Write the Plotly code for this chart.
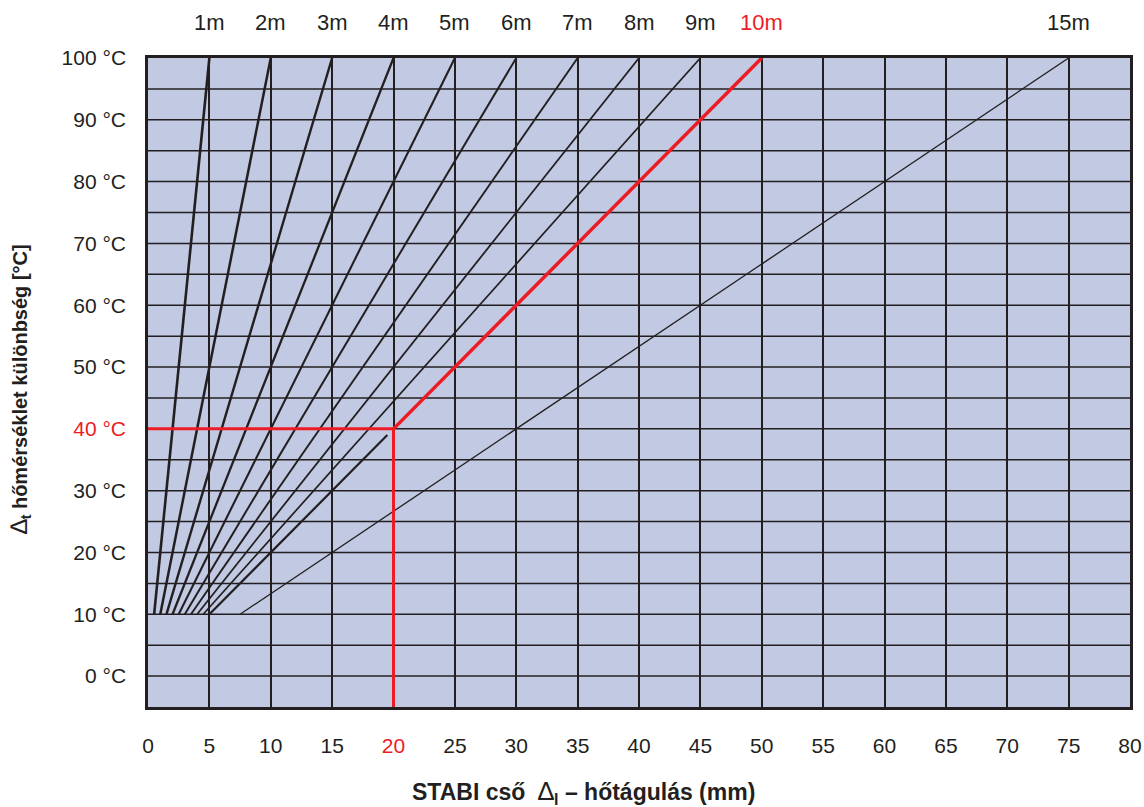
import plotly.graph_objects as go

# Pipe lengths (m) and their expansion lines (x = expansion mm, y = temperature difference °C)
lengths = ["1m", "2m", "3m", "4m", "5m", "6m", "7m", "8m", "9m", "10m", "15m"]
x_start = [0.5, 1.0, 1.5, 2.0, 2.5, 3.0, 3.5, 4.0, 4.5, 5.0, 7.5]
x_end = [5, 10, 15, 20, 25, 30, 35, 40, 45, 50, 75]
t_start = 10
t_end = 100

# Highlighted example: 10 m pipe, 40 °C -> 20 mm
ex_len = "10m"
ex_dt = 40
ex_dl = 20
ex_black_end_x = 19.5
ex_black_end_t = 39

x_ticks = list(range(0, 85, 5))
y_ticks = list(range(0, 110, 10))

RED = "#ed1c24"
INK = "#231f20"
FONT = "Liberation Sans, Arial, sans-serif"

fig = go.Figure()

widths = [2.6, 2.5, 2.4, 2.3, 2.1, 2.0, 1.9, 1.8, 1.7, 2.2, 1.3]
for name, xs, xe, w in zip(lengths, x_start, x_end, widths):
    if name == ex_len:
        fig.add_trace(go.Scatter(x=[xs, ex_black_end_x], y=[t_start, ex_black_end_t], mode="lines",
                                 line=dict(color=INK, width=w), showlegend=False, hoverinfo="skip"))
        fig.add_trace(go.Scatter(x=[ex_dl, xe], y=[ex_dt, t_end], mode="lines",
                                 line=dict(color=RED, width=3.5), showlegend=False, hoverinfo="skip"))
    else:
        fig.add_trace(go.Scatter(x=[xs, xe], y=[t_start, t_end], mode="lines",
                                 line=dict(color=INK, width=w), showlegend=False, hoverinfo="skip"))

# red guide lines
fig.add_trace(go.Scatter(x=[0, ex_dl, ex_dl], y=[ex_dt, ex_dt, -5], mode="lines",
                         line=dict(color=RED, width=3), showlegend=False, hoverinfo="skip"))

# top labels
for name, xe in zip(lengths, x_end):
    fig.add_annotation(x=xe, y=1.0, xref="x", yref="paper", yshift=36, yanchor="middle",
                       xanchor="center", text=name, showarrow=False,
                       font=dict(size=22, color=RED if name == ex_len else INK, family=FONT))

x_text = [f"<span style='color:{RED}'>{v}</span>" if v == ex_dl else str(v) for v in x_ticks]
y_text = [f"<span style='color:{RED}'>{v} °C</span>" if v == ex_dt else f"{v} °C" for v in y_ticks]

fig.update_xaxes(range=[0, 80], tickvals=x_ticks, ticktext=x_text, showgrid=True,
                 gridcolor=INK, gridwidth=1.5, zeroline=False, showline=True, linecolor=INK,
                 linewidth=2.5, mirror=True, ticks="", ticklabelstandoff=18, automargin=False,
                 tickfont=dict(size=21, color=INK, family=FONT))
fig.update_yaxes(range=[-5, 100], tickvals=y_ticks, ticktext=y_text, showgrid=False,
                 zeroline=False, showline=True, linecolor=INK, linewidth=2.5, mirror=True,
                 ticks="", ticklabelstandoff=15, automargin=False,
                 tickfont=dict(size=21, color=INK, family=FONT))

# horizontal grid every 5
for v in range(-5, 101, 5):
    if v in (-5, 100):
        continue
    fig.add_shape(type="line", xref="paper", yref="y", x0=0, x1=1, y0=v, y1=v,
                  line=dict(color=INK, width=1.5), layer="below")

fig.add_annotation(x=0.443, y=0, xref="paper", yref="paper", yshift=-85, xanchor="center",
                   yanchor="middle",
                   text="<b>STABI cső&nbsp; </b><span style='font-weight:normal;font-size:26px'>∆</span><b><sub>l</sub> – hőtágulás (mm)</b>",
                   showarrow=False, font=dict(size=23, color=INK, family=FONT))
fig.add_annotation(x=0, y=0.49, xref="paper", yref="paper", xshift=-128, textangle=-90,
                   xanchor="center", yanchor="middle",
                   text="<span style='font-weight:normal;font-size:24px'>∆</span><b><sub>t</sub> hőmérséklet különbség [°C]</b>",
                   showarrow=False, font=dict(size=20, color=INK, family=FONT))

fig.update_layout(width=1144, height=807, margin=dict(l=148, r=14, t=58, b=100, autoexpand=False),
                  plot_bgcolor="#c2c9e3", paper_bgcolor="white", showlegend=False)

fig.write_html("out.html", config={"displayModeBar": False},
               post_script="document.body.style.margin='0';document.body.style.overflow='hidden';")
